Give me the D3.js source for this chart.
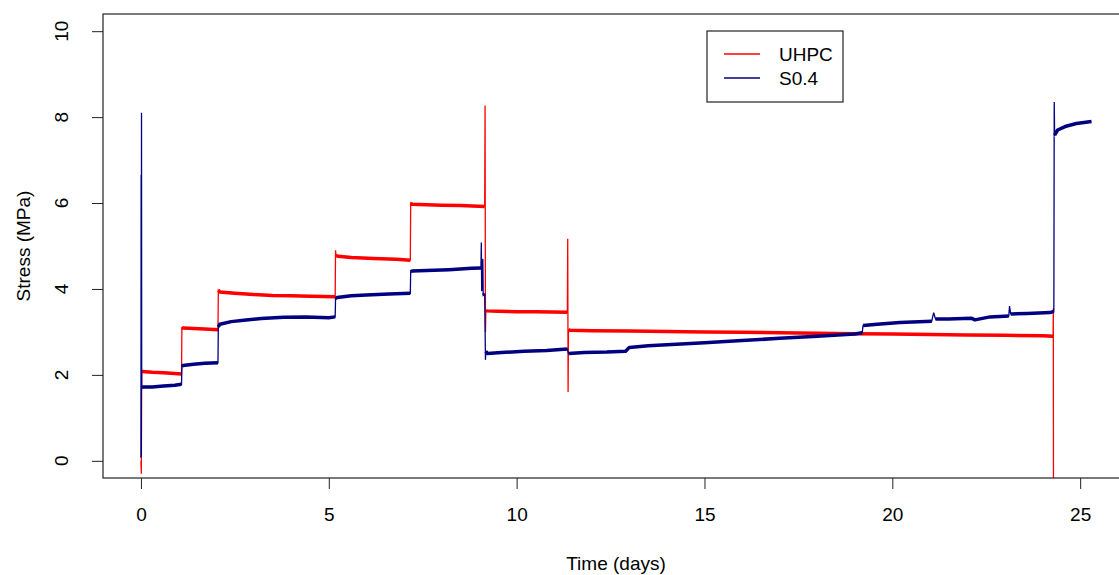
<!DOCTYPE html>
<html>
<head>
<meta charset="utf-8">
<script src="https://cdn.jsdelivr.net/npm/d3@7"></script>
<style>
  body { margin: 0; background: #fff; }
  text { font-family: "Liberation Sans", Arial, sans-serif; fill: #000; }
</style>
</head>
<body>
<svg class="chart"></svg>
<script>
// UHPC series (red)
var uhpcDays = [0.00, 0.01, 0.02, 0.04, 0.3, 0.6, 0.9, 1.08, 1.09, 1.12, 1.4, 1.7, 2.05, 2.06, 2.1, 2.5,
    3.0, 3.5, 4.0, 4.5, 5.17, 5.18, 5.19, 5.25, 5.6, 6.2, 6.8, 7.17, 7.18, 7.22, 7.6, 8.0, 8.5, 9.15,
    9.16, 9.17, 9.18, 9.2, 9.5, 10.0, 10.5, 11.35, 11.36, 11.37, 11.38, 11.42, 12, 13, 14, 15, 16, 17,
    18, 19, 20, 21, 22, 23, 24, 24.28, 24.285, 24.29];
var uhpcStress = [0.00, -0.30, 2.07, 2.08, 2.06, 2.05, 2.03, 2.02, 3.10, 3.09, 3.08, 3.07, 3.05, 3.97, 3.93, 3.90,
    3.87, 3.85, 3.84, 3.83, 3.82, 4.90, 4.78, 4.76, 4.73, 4.71, 4.69, 4.67, 6.00, 5.97, 5.96, 5.95, 5.94, 5.92,
    8.27, 3.00, 3.50, 3.49, 3.48, 3.47, 3.47, 3.46, 5.17, 1.60, 3.05, 3.04, 3.03, 3.02, 3.01, 3.00, 2.99, 2.98,
    2.97, 2.96, 2.95, 2.94, 2.93, 2.92, 2.91, 2.90, 3.55, -1.0];

// S0.4 series (navy)
var s04Days = [0.00, 0.005, 0.01, 0.015, 0.02, 0.05, 0.3, 0.6, 0.9, 1.08, 1.09, 1.12, 1.4, 1.7, 2.05, 2.06,
    2.1, 2.4, 2.8, 3.2, 3.8, 4.4, 5.0, 5.17, 5.18, 5.22, 5.6, 6.0, 6.6, 7.17, 7.18, 7.22, 7.6, 8.2, 8.8,
    9.05, 9.06, 9.07, 9.10, 9.11, 9.15, 9.17, 9.18, 9.22, 9.6, 10.2, 10.8, 11.35, 11.38, 11.8, 12.4, 12.9,
    13.0, 13.5, 14.0, 15.0, 16.0, 17.0, 18.0, 19.0, 19.2, 19.22, 19.6, 20.2, 21.05, 21.1, 21.15, 21.5, 22.1,
    22.2, 22.6, 23.1, 23.12, 23.15, 23.6, 24.2, 24.3, 24.31, 24.32, 24.4, 24.6, 24.9, 25.3];
var s04Stress = [0.07, 6.65, 0.10, 8.10, 1.70, 1.72, 1.72, 1.74, 1.76, 1.78, 2.20, 2.22, 2.25, 2.27, 2.28, 3.12,
    3.18, 3.24, 3.28, 3.31, 3.34, 3.35, 3.33, 3.35, 3.78, 3.80, 3.84, 3.86, 3.88, 3.90, 4.40, 4.42, 4.43, 4.45, 4.48,
    4.49, 5.08, 3.95, 4.70, 3.85, 3.88, 2.35, 2.55, 2.50, 2.52, 2.55, 2.57, 2.60, 2.50, 2.52, 2.53, 2.55,
    2.64, 2.68, 2.70, 2.75, 2.80, 2.85, 2.90, 2.95, 2.98, 3.15, 3.18, 3.22, 3.25, 3.45, 3.30, 3.30, 3.32,
    3.28, 3.35, 3.37, 3.60, 3.42, 3.43, 3.45, 3.48, 8.35, 7.58, 7.70, 7.78, 7.85, 7.90];

var seriesNames = ["UHPC", "S0.4"];
var seriesColors = ["#ff0000", "#000080"];
var xTicks = [0, 5, 10, 15, 20, 25];
var yTicks = [0, 2, 4, 6, 8, 10];

(function show() {
    'use strict';
    var W = 1119, H = 575;
    var plot = {left: 103, right: 1129, top: 14, bottom: 478};

    var svg = d3.select(".chart").attr("width", W).attr("height", H);

    var x = d3.scaleLinear().domain([-1.01, 26.3]).range([plot.left, plot.right]);
    var y = d3.scaleLinear().domain([-0.4, 10.4]).range([plot.bottom, plot.top]);

    svg.append("defs").append("clipPath").attr("id", "clip")
        .append("rect")
        .attr("x", plot.left).attr("y", plot.top)
        .attr("width", plot.right - plot.left).attr("height", plot.bottom - plot.top);

    // axes
    var xAxis = svg.append("g")
        .attr("transform", "translate(0," + plot.bottom + ")")
        .call(d3.axisBottom(x).tickValues(xTicks).tickSize(11).tickPadding(19));
    xAxis.select(".domain").remove();
    xAxis.selectAll("line").attr("stroke", "#222");
    xAxis.selectAll("text").style("font-size", "19px").attr("fill", "#000");

    var yAxis = svg.append("g")
        .attr("transform", "translate(" + plot.left + ",0)")
        .call(d3.axisLeft(y).tickValues(yTicks).tickSize(11).tickFormat(""));
    yAxis.select(".domain").remove();
    yAxis.selectAll("line").attr("stroke", "#222");

    svg.selectAll(".ylab").data(yTicks).enter()
        .append("text")
        .attr("class", "ylab")
        .attr("transform", function(d) { return "translate(61," + y(d) + ") rotate(-90)"; })
        .attr("text-anchor", "middle")
        .attr("dominant-baseline", "central")
        .style("font-size", "19px")
        .text(function(d) { return d; });

    svg.append("text")
        .attr("x", (plot.left + plot.right) / 2)
        .attr("y", 563)
        .attr("text-anchor", "middle")
        .attr("dominant-baseline", "central")
        .style("font-size", "19px")
        .text("Time (days)");

    svg.append("text")
        .attr("transform", "translate(23," + ((plot.top + plot.bottom) / 2) + ") rotate(-90)")
        .attr("text-anchor", "middle")
        .attr("dominant-baseline", "central")
        .style("font-size", "19px")
        .text("Stress (MPa)");

    // data
    var lineGroup = svg.append("g").attr("clip-path", "url(#clip)");
    var line = d3.line().x(function(d) { return x(d[0]); }).y(function(d) { return y(d[1]); });

    function drawSeries(days, stress, color) {
        var pts = days.map(function(d, i) { return [d, stress[i]]; });
        lineGroup.append("path")
            .datum(pts)
            .attr("d", line)
            .attr("fill", "none")
            .attr("stroke", color)
            .attr("stroke-width", 1.3);

        // near-horizontal runs look thick in the original (noisy dense data)
        var runs = [], cur = null;
        for (var i = 1; i < pts.length; i++) {
            var dx = Math.abs(x(pts[i][0]) - x(pts[i - 1][0]));
            var dy = Math.abs(y(pts[i][1]) - y(pts[i - 1][1]));
            if (dy <= dx * 1.5 + 1) {
                if (!cur) { cur = [pts[i - 1]]; runs.push(cur); }
                cur.push(pts[i]);
            } else {
                cur = null;
            }
        }
        lineGroup.selectAll(null).data(runs).enter()
            .append("path")
            .attr("d", line)
            .attr("fill", "none")
            .attr("stroke", color)
            .attr("stroke-width", 3.5)
            .attr("stroke-linejoin", "round");
    }

    drawSeries(uhpcDays, uhpcStress, seriesColors[0]);
    drawSeries(s04Days, s04Stress, seriesColors[1]);

    // box
    svg.append("rect")
        .attr("x", plot.left).attr("y", plot.top)
        .attr("width", plot.right - plot.left).attr("height", plot.bottom - plot.top)
        .attr("fill", "none").attr("stroke", "#222").attr("stroke-width", 1.2);

    // legend
    var legend = svg.append("g");
    legend.append("rect")
        .attr("x", 707).attr("y", 31).attr("width", 136).attr("height", 71)
        .attr("fill", "#fff").attr("stroke", "#222").attr("stroke-width", 1.2);
    seriesNames.forEach(function(name, i) {
        var ly = 54 + i * 24;
        legend.append("line")
            .attr("x1", 724).attr("x2", 760).attr("y1", ly).attr("y2", ly)
            .attr("stroke", seriesColors[i]).attr("stroke-width", 1.3);
        legend.append("text")
            .attr("x", 779).attr("y", ly)
            .attr("dominant-baseline", "central")
            .style("font-size", "19px")
            .text(name);
    });
})();
</script>
</body>
</html>
